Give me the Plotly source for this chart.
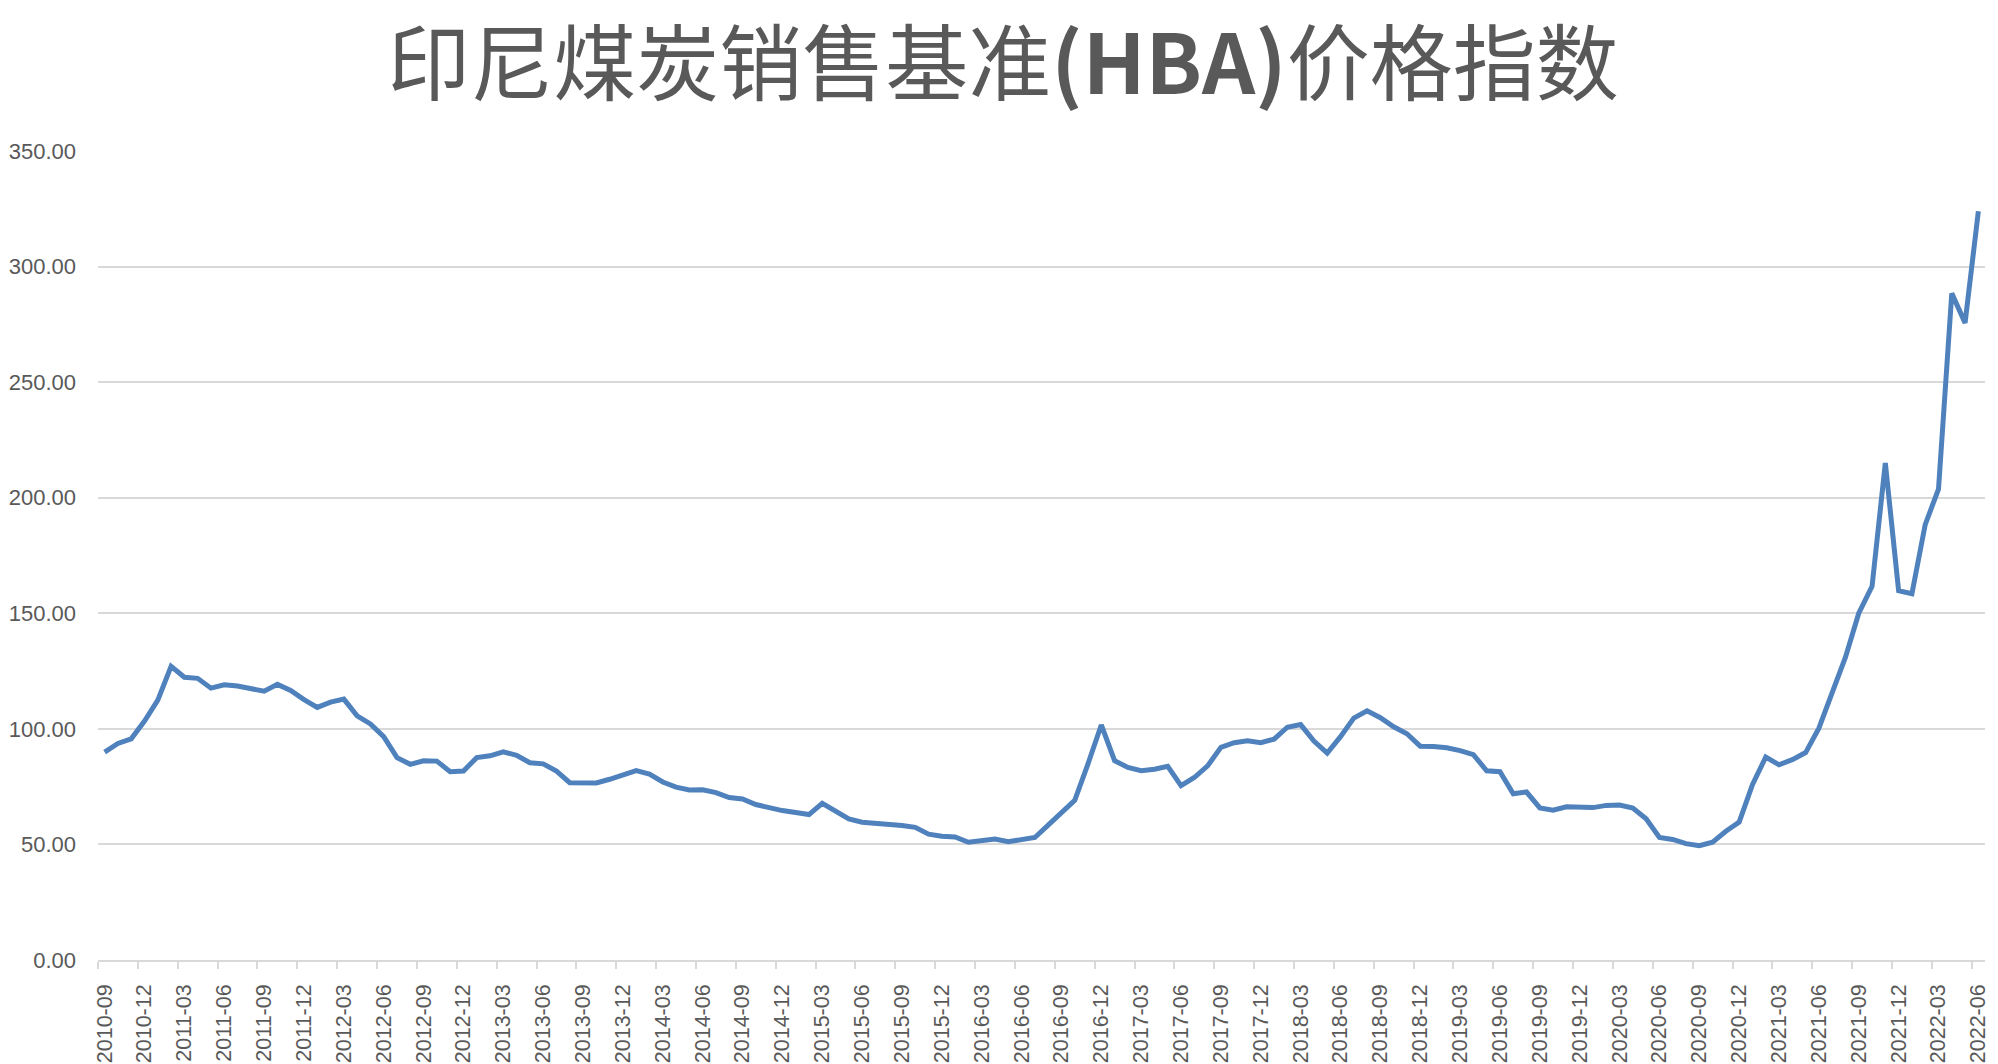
import pandas as pd
import plotly.graph_objects as go

# Monthly categories 2010-09 .. 2022-06
months = [p.strftime("%Y-%m") for p in pd.period_range("2010-09", "2022-06", freq="M")]

hba_2010 = [89.9, 93.7, 95.7, 103.4]
hba_2011 = [112.40, 127.05, 122.31, 121.86, 117.61, 119.03, 118.51, 117.60, 116.31, 119.24, 116.65, 112.67]
hba_2012 = [109.29, 111.58, 112.87, 105.61, 102.12, 96.65, 87.56, 84.65, 86.21, 86.04, 81.44, 81.75]
hba_2013 = [87.55, 88.35, 90.09, 88.56, 85.33, 84.87, 81.69, 76.70, 76.89, 76.61, 78.19, 80.31]
hba_2014 = [81.90, 80.44, 77.01, 74.81, 73.60, 73.64, 72.45, 70.29, 69.69, 67.26, 65.70, 64.65]
hba_2015 = [63.84, 62.92, 67.76, 64.48, 61.08, 59.59, 59.16, 59.14, 58.21, 57.39, 54.43, 53.51]
hba_2016 = [53.20, 50.92, 51.62, 52.32, 51.20, 51.87, 53.00, 58.37, 63.93, 69.07, 84.89, 101.69]
hba_2017 = [86.23, 83.32, 81.90, 82.51, 83.81, 75.46, 78.95, 83.97, 92.03, 93.99, 94.80, 94.04]
hba_2018 = [95.54, 100.69, 101.86, 94.75, 89.53, 96.61, 104.65, 107.83, 104.81, 100.89, 97.90, 92.51]
hba_2019 = [92.41, 91.80, 90.57, 88.85, 81.86, 81.48, 71.92, 72.67, 65.79, 64.80, 66.27, 66.30]
hba_2020 = [65.93, 66.89, 67.08, 65.77, 61.11, 52.98, 52.16, 50.34, 49.42, 51.00, 55.71, 59.65]
hba_2021 = [75.84, 87.79, 84.47, 86.68, 89.74, 100.33, 115.35, 130.99, 150.03, 161.63, 215.01, 159.79]
hba_2022 = [158.50, 188.38, 203.69, 288.40, 275.64, 323.91]

values = (hba_2010 + hba_2011 + hba_2012 + hba_2013 + hba_2014 + hba_2015 + hba_2016
          + hba_2017 + hba_2018 + hba_2019 + hba_2020 + hba_2021 + hba_2022)

x_idx = list(range(len(months)))
tick_idx = x_idx[::3]
tick_text = months[::3]
boundary_ticks = [i - 0.5 for i in tick_idx]

TXT = "#595959"
GRID = "#D9D9D9"

W, H = 1990, 1056  # page body has an 8px margin

fig = go.Figure()
fig.add_trace(go.Scatter(
    x=x_idx, y=values, mode="lines",
    line=dict(color="#4F81BD", width=5),
    customdata=months,
    hovertemplate="%{customdata}: %{y:.2f}<extra></extra>",
    showlegend=False,
))

fig.update_layout(
    width=W, height=H,
    paper_bgcolor="white", plot_bgcolor="white",
    margin=dict(l=90, r=13, t=143, b=104, autoexpand=False),
    title=dict(
        text="印尼煤炭销售基准<b>(HBA)</b>价格指数",
        x=0.5, xanchor="center", xref="container",
        y=1 - 57 / H, yanchor="middle", yref="container",
        font=dict(family="Noto Sans CJK SC", size=83, color=TXT),
    ),
    font=dict(family="Liberation Sans", color=TXT),
)

fig.update_xaxes(
    automargin=False,
    range=[-0.5, len(months) - 0.5],
    tickmode="array", tickvals=tick_idx, ticktext=tick_text,
    tickangle=-90, ticks="", showgrid=False, zeroline=False,
    showline=True, linecolor=GRID, linewidth=1.5,
    tickfont=dict(size=21.5, color=TXT, family="Liberation Sans"),
    ticklabelstandoff=14,
    minor=dict(tickmode="array", tickvals=boundary_ticks, ticks="outside",
               ticklen=7, tickcolor=GRID, tickwidth=1.5, showgrid=False),
)
fig.update_yaxes(
    automargin=False,
    range=[0, 350], dtick=50, tickformat=".2f",
    showgrid=True, gridcolor=GRID, gridwidth=1.5,
    zeroline=False, showline=False, ticks="",
    tickfont=dict(size=22, color=TXT, family="Liberation Sans"),
    ticklabelstandoff=21,
)

fig.write_html("out.html")
